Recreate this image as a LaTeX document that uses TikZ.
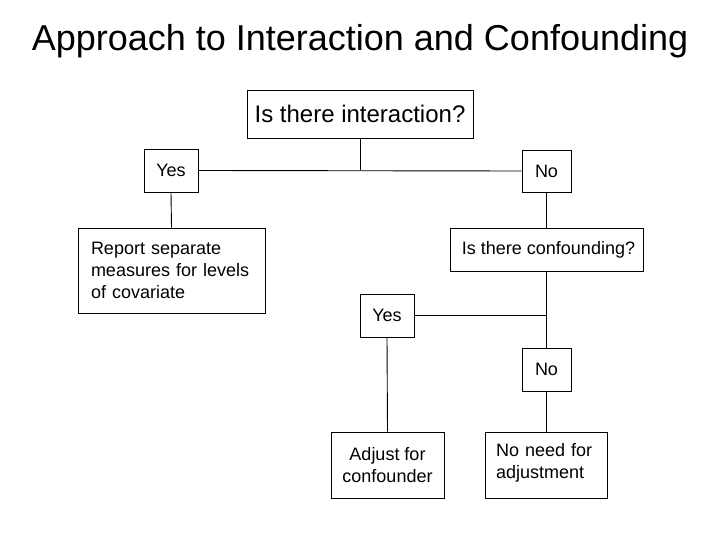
\documentclass[tikz,border=0pt]{standalone}
\usepackage{fontspec}
\setmainfont{Liberation Sans}
\begin{document}
\begin{tikzpicture}[x=1pt,y=-1pt,
  box/.style={draw=black,line width=0.9pt,inner sep=0pt,font=\fontsize{18}{22}\selectfont,align=center},
  link/.style={draw=black,line width=0.9pt}]
\useasboundingbox (0,0) rectangle (720,540);
\fill[white] (0,0) rectangle (720,540);
\node (title) at (360,41) {\fontsize{36}{40}\selectfont Approach to Interaction and Confounding};
\node[box,minimum width=226pt,minimum height=48pt,font=\fontsize{24}{28}\selectfont] (q1) at (360,114) {Is there interaction?};
\node[box,minimum width=54pt,minimum height=43pt] (yes1) at (171,170.5) {Yes};
\node[box,minimum width=49pt,minimum height=42pt] (no1) at (546.5,171) {No};
\node[box,minimum width=187pt,minimum height=85pt,text width=161pt,align=left,inner xsep=13pt] (report) at (171.5,270.5) {Report separate\\measures for levels\\of covariate};
\node[box,minimum width=193pt,minimum height=43pt] (q2) at (546.5,249.5) {\hspace{4pt}Is there confounding?};
\node[box,minimum width=54pt,minimum height=43pt] (yes2) at (387,315.5) {Yes};
\node[box,minimum width=49pt,minimum height=43pt] (no2) at (546.5,369.5) {No};
\node[box,minimum width=113pt,minimum height=66pt] (adjust) at (387.5,465) {Adjust for\\confounder};
\node[box,minimum width=120pt,minimum height=66pt,text width=100pt,align=left,inner xsep=11pt] (noneed) at (546,465) {No need for\\adjustment\rule[-9pt]{0pt}{9pt}};
\draw[link] (yes1.east) -- (no1.west);
\draw[link] (q1.south) -- (q1.south |- yes1.east);
\draw[link] (yes1.south) -- (report.north);
\draw[link] (no1.south) -- (q2.north);
\draw[link] (q2.south) -- (no2.north);
\draw[link] (yes2.east) -- (yes2.east -| q2.south);
\draw[link] (yes2.south) -- (adjust.north);
\draw[link] (no2.south) -- (noneed.north -| no2.south);
\end{tikzpicture}
\end{document}
